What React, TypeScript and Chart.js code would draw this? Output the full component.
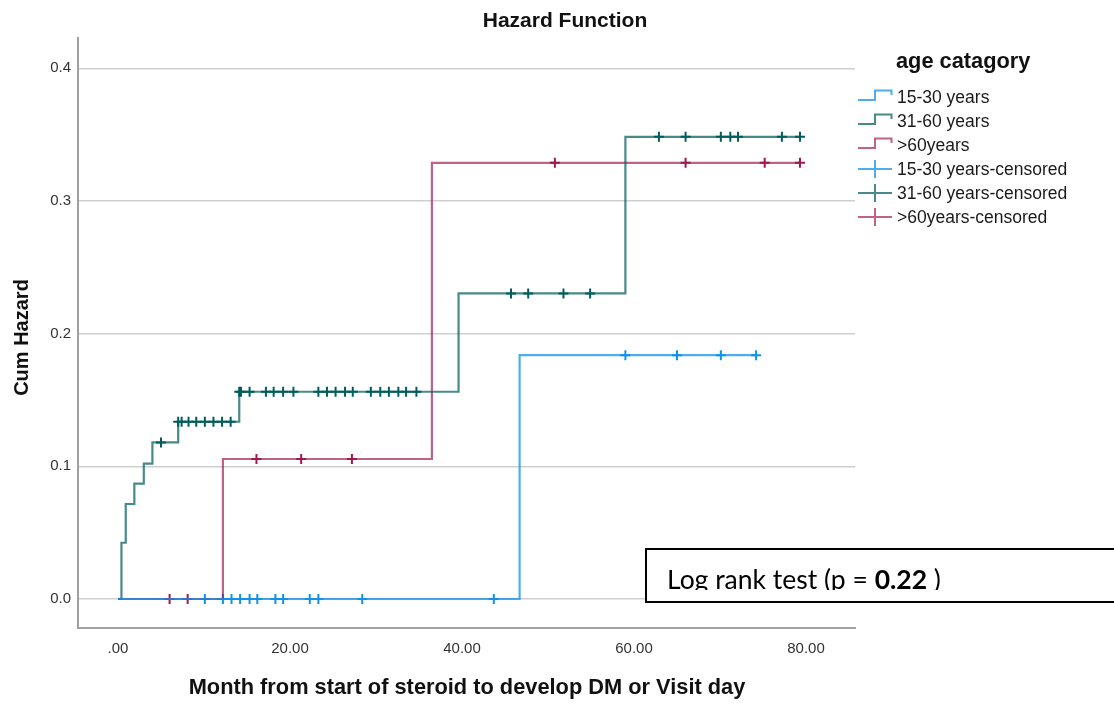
import React, { useEffect, useRef } from "react";
import { Chart, registerables } from "chart.js";
Chart.register(...registerables);

// ---------- data ----------
const categories = ["15-30 years", "31-60 years", ">60years"];
const legendLabels = [
  "15-30 years",
  "31-60 years",
  ">60years",
  "15-30 years-censored",
  "31-60 years-censored",
  ">60years-censored",
];
const xTicks = [0, 20, 40, 60, 80];
const xTickLabels = [".00", "20.00", "40.00", "60.00", "80.00"];
const yTicks = [0, 0.1, 0.2, 0.3, 0.4];
const yTickLabels = ["0.0", "0.1", "0.2", "0.3", "0.4"];

// step curves (time, cumulative hazard)
const time1530 = [0, 46.7, 74.3];
const haz1530 = [0, 0.1838, 0.1838];
const time3160 = [0, 0.4, 0.9, 1.9, 3.0, 4.0, 7.0, 14.1, 39.6, 59.0, 79.3];
const haz3160 = [0, 0.0424, 0.0716, 0.087, 0.102, 0.118, 0.1336, 0.1562, 0.2303, 0.3483, 0.3483];
const time60 = [0, 12.2, 36.5, 79.3];
const haz60 = [0, 0.1055, 0.3287, 0.3287];

// censored observations
const cens1530T = [10.1, 12.2, 13.2, 14.2, 15.3, 16.2, 18.3, 19.2, 22.3, 23.3, 28.4, 43.7, 59.0, 65.0, 70.1, 74.2];
const cens1530H = [0, 0, 0, 0, 0, 0, 0, 0, 0, 0, 0, 0, 0.1838, 0.1838, 0.1838, 0.1838];
const cens3160T = [
  5.0, 7.0, 7.4, 8.2, 9.1, 10.1, 11.1, 12.1, 13.1,
  14.1, 14.3, 15.3, 17.2, 18.1, 19.2, 20.4, 23.3, 24.3, 25.3, 26.4, 27.3, 29.4, 30.5, 31.5, 32.6, 33.5, 34.7,
  45.7, 47.7, 51.8, 54.9,
  62.9, 66.0, 70.1, 71.2, 72.1, 77.2, 79.3,
];
const cens3160H = [
  0.118, 0.1336, 0.1336, 0.1336, 0.1336, 0.1336, 0.1336, 0.1336, 0.1336,
  0.1562, 0.1562, 0.1562, 0.1562, 0.1562, 0.1562, 0.1562, 0.1562, 0.1562, 0.1562, 0.1562, 0.1562, 0.1562, 0.1562, 0.1562, 0.1562, 0.1562, 0.1562,
  0.2303, 0.2303, 0.2303, 0.2303,
  0.3483, 0.3483, 0.3483, 0.3483, 0.3483, 0.3483, 0.3483,
];
const cens60T = [6.0, 8.1, 16.1, 21.3, 27.2, 50.8, 66.0, 75.2, 79.3];
const cens60H = [0, 0, 0.1055, 0.1055, 0.1055, 0.3287, 0.3287, 0.3287, 0.3287];

// ---------- styles ----------
const lineColors = ["rgba(17,146,232,0.75)", "rgba(0,93,93,0.72)", "rgba(159,24,83,0.68)"];
const markColors = ["#1192e8", "#005d5d", "#9f1853"];

const toPts = (xs: number[], ys: number[]) => xs.map((x, i) => ({ x, y: ys[i] }));

const decorPlugin = {
  id: "decor",
  afterDraw(chart: any) {
    const ctx = chart.ctx as CanvasRenderingContext2D;
    ctx.save();
    ctx.fillStyle = "#111";
    // title
    ctx.font = "bold 21px 'Liberation Sans', Arial, sans-serif";
    ctx.textAlign = "center";
    ctx.textBaseline = "alphabetic";
    ctx.fillText("Hazard Function", 565, 27);
    // x title
    ctx.font = "bold 21.8px 'Liberation Sans', Arial, sans-serif";
    ctx.fillText("Month from start of steroid to develop DM or Visit day", 467, 694);
    // y title
    ctx.save();
    ctx.translate(28, 337.5);
    ctx.rotate(-Math.PI / 2);
    ctx.font = "bold 20px 'Liberation Sans', Arial, sans-serif";
    ctx.fillText("Cum Hazard", 0, 0);
    ctx.restore();

    // legend
    ctx.textAlign = "left";
    ctx.font = "bold 21.8px 'Liberation Sans', Arial, sans-serif";
    ctx.fillText("age catagory", 896, 68);
    ctx.font = "17.5px 'Liberation Sans', Arial, sans-serif";
    for (let i = 0; i < legendLabels.length; i++) {
      const yc = 97 + i * 24;
      const col = lineColors[i % 3];
      ctx.strokeStyle = col;
      ctx.lineWidth = 2;
      ctx.beginPath();
      if (i < 3) {
        ctx.moveTo(858, yc + 3);
        ctx.lineTo(875, yc + 3);
        ctx.lineTo(875, yc - 6.5);
        ctx.lineTo(891.5, yc - 6.5);
        ctx.lineTo(891.5, yc - 2);
      } else {
        ctx.moveTo(858, yc);
        ctx.lineTo(892, yc);
        ctx.moveTo(875, yc - 9);
        ctx.lineTo(875, yc + 9);
      }
      ctx.stroke();
      ctx.fillStyle = "#1a1a1a";
      ctx.fillText(legendLabels[i], 897, yc + 6);
    }

    // log rank annotation box
    ctx.fillStyle = "#ffffff";
    ctx.fillRect(646, 549, 480, 53);
    ctx.strokeStyle = "#000";
    ctx.lineWidth = 2;
    ctx.strokeRect(646, 549, 480, 53);
    ctx.save();
    ctx.beginPath();
    ctx.rect(647, 550, 470, 40);
    ctx.clip();
    ctx.fillStyle = "#000";
    const fs = 26.5;
    ctx.font = `${fs}px Lato, 'Open Sans', sans-serif`;
    const a = "Log rank test (p = ";
    ctx.fillText(a, 667, 589);
    let x = 667 + ctx.measureText(a).width;
    ctx.font = `bold ${fs}px Lato, 'Open Sans', sans-serif`;
    const b = "0.22";
    ctx.fillText(b, x, 589);
    x += ctx.measureText(b).width;
    ctx.font = `${fs}px Lato, 'Open Sans', sans-serif`;
    ctx.fillText(" )", x, 589);
    ctx.restore();
    ctx.restore();
  },
};

export default function App() {
  const ref = useRef<HTMLCanvasElement | null>(null);
  useEffect(() => {
    if (!ref.current) return;
    const stepSets = [
      [time1530, haz1530],
      [time3160, haz3160],
      [time60, haz60],
    ];
    const censSets = [
      [cens1530T, cens1530H],
      [cens3160T, cens3160H],
      [cens60T, cens60H],
    ];
    const datasets: any[] = [];
    stepSets.forEach(([t, h], i) => {
      datasets.push({
        label: categories[i],
        data: toPts(t as number[], h as number[]),
        showLine: true,
        stepped: "before",
        borderColor: lineColors[i],
        borderWidth: 2.2,
        pointRadius: 0,
        fill: false,
      });
    });
    censSets.forEach(([t, h], i) => {
      datasets.push({
        label: categories[i] + "-censored",
        data: toPts(t as number[], h as number[]),
        showLine: false,
        pointStyle: "cross",
        pointRadius: 5,
        pointBorderWidth: 2,
        borderColor: markColors[i],
        backgroundColor: markColors[i],
      });
    });

    const chart = new Chart(ref.current, {
      type: "scatter",
      data: { datasets },
      plugins: [decorPlugin],
      options: {
        responsive: false,
        animation: false,
        layout: { padding: { left: 0, top: 38, right: 259, bottom: 0 } },
        plugins: { legend: { display: false }, tooltip: { enabled: false }, title: { display: false } },
        scales: {
          x: {
            type: "linear",
            min: -4.651,
            max: 85.7,
            afterFit: (s: any) => {
              s.height = 79;
            },
            afterBuildTicks: (s: any) => {
              s.ticks = xTicks.map((v) => ({ value: v }));
            },
            ticks: {
              padding: 12,
              color: "#333",
              font: { family: "'Liberation Sans', Arial, sans-serif", size: 15 },
              maxRotation: 0,
              callback: (v: any) => {
                const i = xTicks.indexOf(Number(v));
                return i >= 0 ? xTickLabels[i] : "";
              },
            },
            grid: { display: false, drawTicks: false },
            border: { display: true, color: "#a0a0a0", width: 2 },
          },
          y: {
            type: "linear",
            min: -0.02185,
            max: 0.4228,
            afterFit: (s: any) => {
              s.width = 78;
            },
            afterBuildTicks: (s: any) => {
              s.ticks = yTicks.map((v) => ({ value: v }));
            },
            ticks: {
              padding: 7,
              color: "#333",
              font: { family: "'Liberation Sans', Arial, sans-serif", size: 15 },
              callback: (v: any) => {
                const i = yTicks.findIndex((t) => Math.abs(t - Number(v)) < 1e-9);
                return i >= 0 ? yTickLabels[i] : "";
              },
            },
            grid: { display: true, drawTicks: false, color: "#cfcfcf", lineWidth: 1.5 },
            border: { display: true, color: "#a0a0a0", width: 2 },
          },
        },
      } as any,
    });
    return () => chart.destroy();
  }, []);

  return (
    <div style={{ position: "absolute", left: 0, top: 0, width: 1114, height: 707, background: "#fff" }}>
      <canvas ref={ref} width={1114} height={707} style={{ display: "block", width: 1114, height: 707 }} />
    </div>
  );
}
